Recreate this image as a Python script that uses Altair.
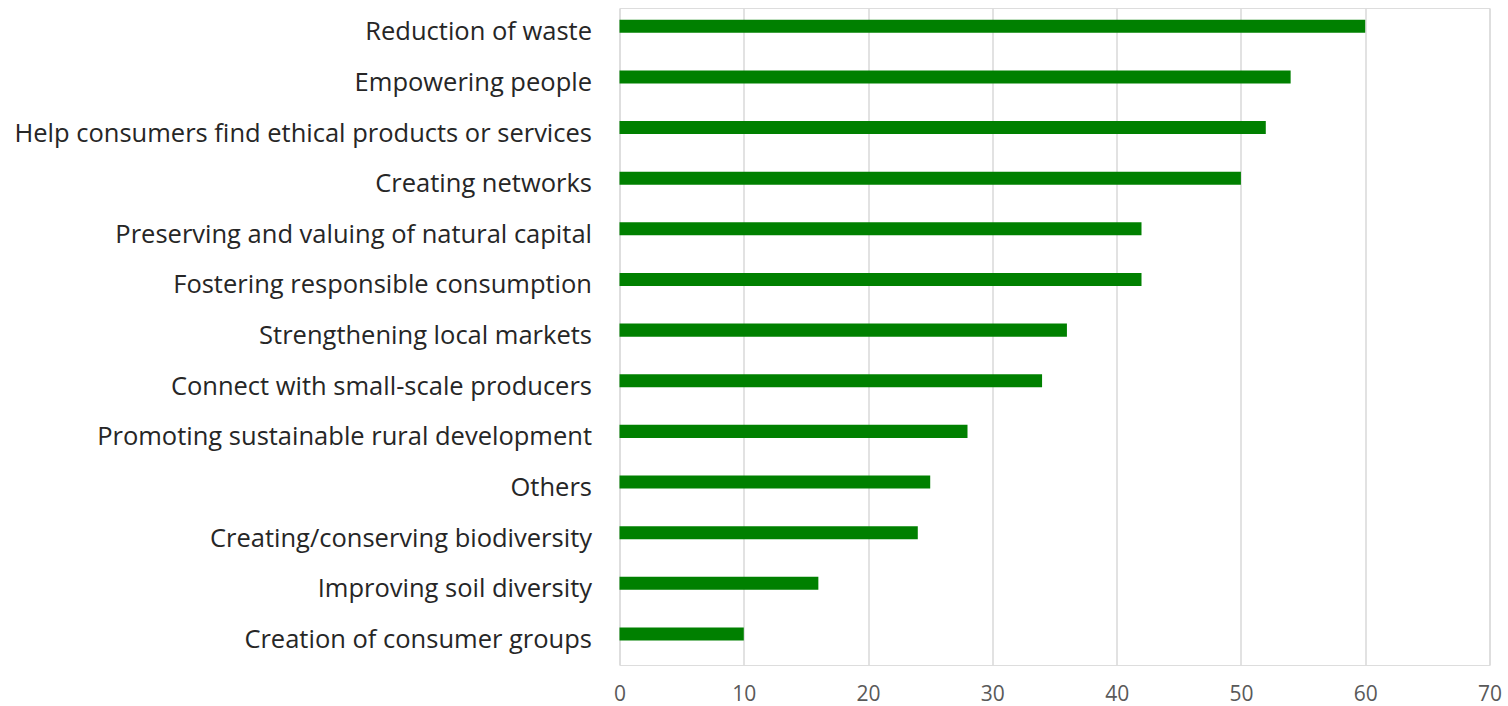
import altair as alt
import pandas as pd

categories = [
    "Reduction of waste",
    "Empowering people",
    "Help consumers find ethical products or services",
    "Creating networks",
    "Preserving and valuing of natural capital",
    "Fostering responsible consumption",
    "Strengthening local markets",
    "Connect with small-scale producers",
    "Promoting sustainable rural development",
    "Others",
    "Creating/conserving biodiversity",
    "Improving soil diversity",
    "Creation of consumer groups ",
]
values = [60, 54, 52, 50, 42, 42, 36, 34, 28, 25, 24, 16, 10]
x_ticks = [0, 10, 20, 30, 40, 50, 60, 70]

df = pd.DataFrame({"category": categories, "value": values})

chart = alt.Chart(df).mark_bar(color="#008000").encode(
    x=alt.X(
        "value:Q",
        scale=alt.Scale(domain=[0, 70], nice=False),
        axis=alt.Axis(
            values=x_ticks,
            title=None,
            domain=False,
            ticks=False,
            grid=True,
            gridColor="#d9d9d9",
            gridWidth=1.5,
            labelFont="Open Sans",
            labelFontSize=21,
            labelColor="#595959",
            labelPadding=18,
            labelFlush=False,
            labelOverlap=False,
        ),
    ),
    y=alt.Y(
        "category:N",
        sort=categories,
        scale=alt.Scale(paddingInner=0.743, paddingOuter=0.36, align=0.325),
        axis=alt.Axis(
            title=None,
            domain=False,
            ticks=False,
            grid=False,
            labelFont="Open Sans",
            labelFontSize=25.5,
            labelColor="#262626",
            labelPadding=28,
            labelLimit=0,
            labelOffset=6,
        ),
    ),
).properties(
    width=870,
    height=657,
    autosize=alt.AutoSizeParams(type="none"),
    padding={"left": 619.5, "top": 8, "right": 18, "bottom": 41},
).configure_view(stroke=None).configure(background="white")

chart.save("out.html", embed_options={"renderer": "svg", "actions": False})
